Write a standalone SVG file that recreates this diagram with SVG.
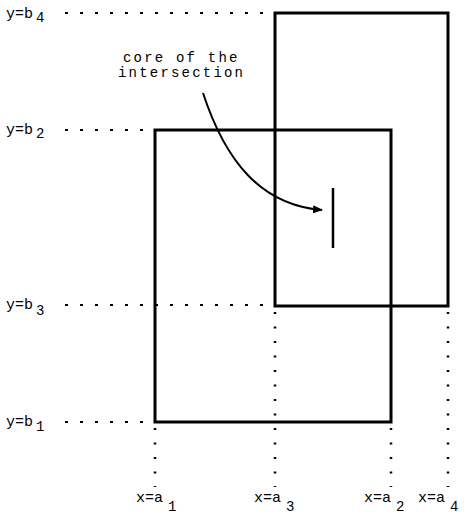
<svg xmlns="http://www.w3.org/2000/svg" width="464" height="522" viewBox="0 0 464 522">
<defs>
<style>
.rect{fill:none;stroke:#000;stroke-width:3}
.dot{fill:none;stroke:#000;stroke-width:2;stroke-dasharray:3 12}
.vdot{fill:none;stroke:#000;stroke-width:2.5;stroke-dasharray:2 12.5}
text{font-family:"Liberation Mono","Courier New",monospace;font-size:15px;fill:#000}
.sub{font-size:14px}
.lbl{font-size:14px;letter-spacing:2.2px}
</style>
<marker id="ah" markerWidth="10" markerHeight="8" refX="9" refY="4" orient="auto" markerUnits="userSpaceOnUse">
<path d="M0,0 L10,4 L0,8 Z" fill="#000"/>
</marker>
</defs>
<g id="guides">
<line class="dot" x1="65" y1="13" x2="275" y2="13"/>
<line class="dot" x1="65" y1="130" x2="155" y2="130"/>
<line class="dot" x1="65" y1="305" x2="275" y2="305"/>
<line class="dot" x1="65" y1="422" x2="155" y2="422"/>
<line class="vdot" x1="155" y1="428" x2="155" y2="487"/>
<line class="vdot" x1="275" y1="312" x2="275" y2="487"/>
<line class="vdot" x1="391" y1="428" x2="391" y2="487"/>
<line class="vdot" x1="448" y1="312" x2="448" y2="487"/>
</g>
<g id="rectA">
<rect class="rect" x="155" y="130" width="236" height="292"/>
</g>
<g id="rectB">
<rect class="rect" x="275" y="13" width="173" height="293"/>
</g>
<g id="core">
<line x1="333" y1="188" x2="333" y2="248" stroke="#000" stroke-width="2.5"/>
</g>
<g id="connectors">
<path d="M203,93 C225,160 260,205 322,210" fill="none" stroke="#000" stroke-width="2" marker-end="url(#ah)"/>
</g>
<g id="note">
<text class="lbl" x="123" y="62">core of the</text>
<text class="lbl" x="118" y="77">intersection</text>
</g>
<g id="labels">
<text x="6" y="18">y=b<tspan class="sub" x="36" y="22">4</tspan></text>
<text x="6" y="134">y=b<tspan class="sub" x="36" y="138">2</tspan></text>
<text x="6" y="309">y=b<tspan class="sub" x="36" y="315">3</tspan></text>
<text x="6" y="426">y=b<tspan class="sub" x="36" y="431">1</tspan></text>
<text x="136" y="502">x=a<tspan class="sub" x="168" y="511">1</tspan></text>
<text x="254" y="502">x=a<tspan class="sub" x="286" y="511">3</tspan></text>
<text x="364" y="502">x=a<tspan class="sub" x="396" y="511">2</tspan></text>
<text x="418" y="502">x=a<tspan class="sub" x="450" y="511">4</tspan></text>
</g>
</svg>
